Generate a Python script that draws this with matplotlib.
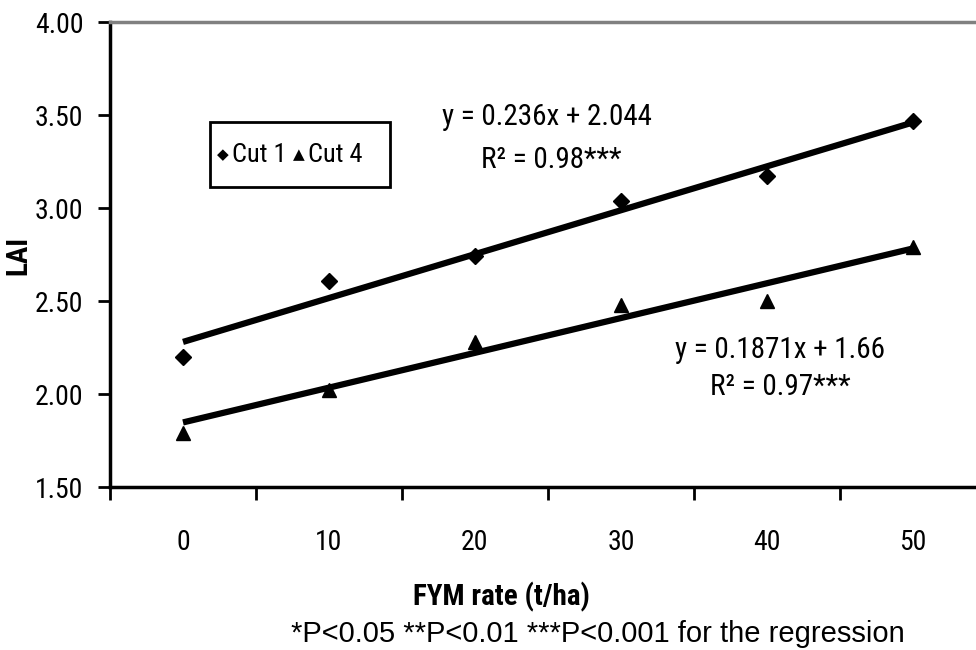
import numpy as np
import matplotlib.pyplot as plt
from matplotlib.patches import Rectangle

narrow = ['Roboto Condensed', 'DejaVu Sans']
plt.rcParams['font.family'] = narrow

rates = ['0', '10', '20', '30', '40', '50']
cut1 = [2.20, 2.61, 2.74, 3.04, 3.17, 3.47]
cut4 = [1.79, 2.02, 2.28, 2.48, 2.50, 2.79]
fit1 = (0.236, 2.044)
fit4 = (0.1871, 1.66)

W, H = 976, 650
fig = plt.figure(figsize=(W / 100, H / 100), dpi=100)
# axes right edge runs past the figure, like the cropped original
ax = fig.add_axes([110 / W, 1 - 487 / H, (986 - 110) / W, (487 - 22) / H])

x = np.arange(len(rates))
xe = x + 1  # Excel trendline uses 1-based x
ax.plot(x, fit1[0] * xe + fit1[1], color='black', lw=4.5, solid_capstyle='butt')
ax.plot(x, fit4[0] * xe + fit4[1], color='black', lw=4.5, solid_capstyle='butt')
ax.plot(x, cut1, linestyle='none', marker='D', ms=8, color='black', zorder=3)
ax.plot(x, cut4, linestyle='none', marker='^', ms=10, color='black', zorder=3)

ax.set_xlim(-0.5, 5.5)
ax.set_ylim(1.5, 4.0)
yt = np.arange(1.5, 4.01, 0.5)
ax.set_yticks(yt)
ax.set_yticklabels([f'{v:.2f}' for v in yt], fontsize=20)
ax.set_xticks(np.arange(-0.5, 5.6, 1.0))
ax.set_xticklabels([])
ax.set_xticks(x, minor=True)
ax.set_xticklabels(rates, minor=True, fontsize=20)
ax.tick_params(axis='x', which='minor', length=0, pad=30)
ax.tick_params(axis='x', which='major', length=9, width=2, direction='out')
ax.tick_params(axis='y', length=9, width=2, direction='out', pad=10)

for s in ['left', 'bottom']:
    ax.spines[s].set_linewidth(2.5)
ax.spines['top'].set_color('#808080')
ax.spines['top'].set_linewidth(2.5)
ax.spines['right'].set_visible(False)

fig.text(18 / W, 1 - 255 / H, 'LAI', fontsize=21, fontweight='bold', rotation=90,
         ha='center', va='center')
fig.text(501 / W, 1 - 597 / H, 'FYM rate (t/ha)', fontsize=21, fontweight='bold',
         ha='center', va='center')
fig.text(598 / W, 1 - 634 / H, '*P<0.05 **P<0.01 ***P<0.001 for the regression',
         fontsize=21, ha='center', va='center', family=['Liberation Sans', 'DejaVu Sans'])

fig.text(547 / W, 1 - 117 / H, 'y = 0.236x + 2.044', fontsize=21, ha='center', va='center')
fig.text(551 / W, 1 - 160 / H, 'R\u00b2 = 0.98***', fontsize=21, ha='center', va='center')
fig.text(780 / W, 1 - 350 / H, 'y = 0.1871x + 1.66', fontsize=21, ha='center', va='center')
fig.text(780 / W, 1 - 387 / H, 'R\u00b2 = 0.97***', fontsize=21, ha='center', va='center')

# legend box, as in the original
fig.patches.append(Rectangle((210 / W, 1 - 187 / H), 180 / W, 65 / H, transform=fig.transFigure,
                             fc='white', ec='black', lw=2, zorder=2))
ly = 1 - 155 / H
fig.text(223 / W, ly, '\u25c6', fontsize=11, ha='center', va='center',
         family='DejaVu Sans', zorder=3)
fig.text(232 / W, ly, 'Cut 1', fontsize=19, ha='left', va='center', zorder=3)
fig.text(299 / W, ly, '\u25b2', fontsize=11, ha='center', va='center',
         family='DejaVu Sans', zorder=3)
fig.text(308 / W, ly, 'Cut 4', fontsize=19, ha='left', va='center', zorder=3)

fig.savefig('out.png', dpi=100)
